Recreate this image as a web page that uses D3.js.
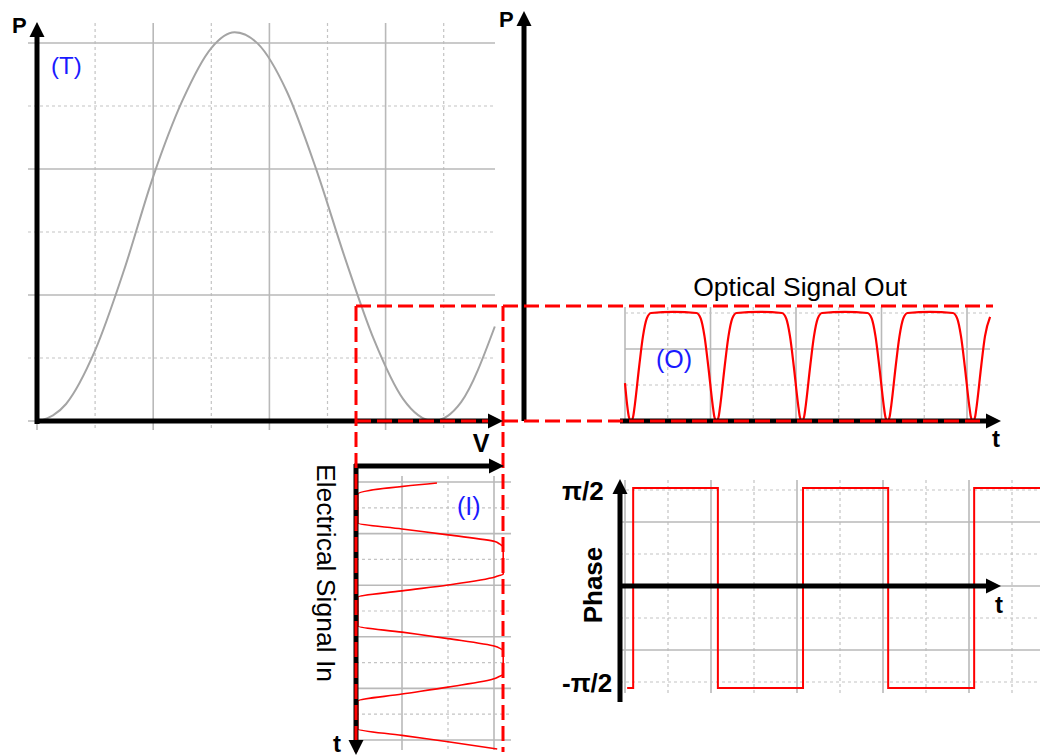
<!DOCTYPE html>
<html>
<head>
<meta charset="utf-8">
<script src="https://cdn.jsdelivr.net/npm/d3@7"></script>
<style>
  body { margin: 0; background: #fff; }
  svg { display: block; font-family: "Liberation Sans", Arial, sans-serif; }
</style>
</head>
<body>
<svg width="1040" height="756"></svg>
<script>
// transfer curve (T): bias voltage V vs optical power P, in grid units
var tV = [0.05, 0.5, 1.0, 1.5, 2.0, 2.5, 3.0, 3.4, 3.8, 4.3, 4.8, 5.3, 5.8, 6.3, 6.82, 7.3, 7.88];
var tP = [0, 0.27, 1.12, 2.40, 3.88, 5.08, 5.92, 6.17, 5.99, 5.23, 4.01, 2.59, 1.29, 0.35, 0, 0.30, 1.5];

// electrical input (I): drive V along time t (t grows downwards)
var iV = [1.76, 0.04, 0.04, 1.0, 2.0, 3.02, 3.12, 3.2, 3.2, 3.1, 3.02, 2.0, 1.0, 0.04, 0.04, 1.0, 2.0, 3.02, 3.12, 3.2, 3.2, 3.1, 3.02, 2.0, 1.0, 0.04, 0.04, 1.0, 2.0, 3.07];
var iT = [0.04, 0.47, 1.59, 1.82, 2.05, 2.31, 2.40, 2.55, 3.58, 3.63, 3.68, 3.99, 4.22, 4.46, 5.58, 5.82, 6.07, 6.37, 6.44, 6.55, 7.45, 7.55, 7.62, 7.95, 8.22, 8.49, 9.57, 9.82, 10.07, 10.35];

// optical output (O): power vs time
var oT = [0, 0.05, 0.09, 0.14, 0.19, 0.23, 0.33, 0.42, 0.51, 0.61, 1.14,
          1.67, 1.77, 1.86, 1.95, 2.05, 2.09, 2.14, 2.19, 2.23, 2.33, 2.42, 2.51, 2.61, 3.14,
          3.67, 3.77, 3.86, 3.95, 4.05, 4.09, 4.14, 4.19, 4.23, 4.33, 4.42, 4.51, 4.61, 5.14,
          5.67, 5.77, 5.86, 5.95, 6.05, 6.09, 6.14, 6.19, 6.23, 6.33, 6.42, 6.51, 6.61, 7.14,
          7.67, 7.77, 7.86, 7.95, 8.05, 8.09, 8.14, 8.19, 8.23, 8.33, 8.42, 8.54];
var oP = [1.05, 0.45, 0.12, 0, 0.12, 0.45, 1.5, 2.35, 2.85, 3.0, 3.03,
          3.0, 2.85, 2.35, 1.5, 0.45, 0.12, 0, 0.12, 0.45, 1.5, 2.35, 2.85, 3.0, 3.03,
          3.0, 2.85, 2.35, 1.5, 0.45, 0.12, 0, 0.12, 0.45, 1.5, 2.35, 2.85, 3.0, 3.03,
          3.0, 2.85, 2.35, 1.5, 0.45, 0.12, 0, 0.12, 0.45, 1.5, 2.35, 2.85, 3.0, 3.03,
          3.0, 2.85, 2.35, 1.5, 0.45, 0.12, 0, 0.12, 0.45, 1.5, 2.35, 2.89];

// phase vs time (step after each switch)
var phT = [0.05, 0.19, 2.16, 4.14, 6.12, 8.12, 9.75];
var phV = [-Math.PI / 2, Math.PI / 2, -Math.PI / 2, Math.PI / 2, -Math.PI / 2, Math.PI / 2, Math.PI / 2];
var phTicks = [Math.PI / 2, -Math.PI / 2];
var phTickLabels = ["π/2", "-π/2"];

var svg = d3.select("svg");
svg.append("rect").attr("width", 1040).attr("height", 756).attr("fill", "#fff");

var gridG = svg.append("g"),
  curveG = svg.append("g"),
  axisG = svg.append("g"),
  boxG = svg.append("g"),
  headG = svg.append("g"),
  textG = svg.append("g");

function gridLine(x1, y1, x2, y2, solid) {
  gridG.append("line")
    .attr("x1", x1).attr("y1", y1).attr("x2", x2).attr("y2", y2)
    .attr("stroke", solid ? "#b9b9b9" : "#c4c4c4")
    .attr("stroke-width", solid ? 1.6 : 1.2)
    .attr("stroke-dasharray", solid ? null : "3,3");
}

// thick black axis with a triangle head at (x2, y2)
function arrow(x1, y1, x2, y2, w) {
  var dx = x2 - x1, dy = y2 - y1, len = Math.sqrt(dx * dx + dy * dy),
    ux = dx / len, uy = dy / len, hl = 15, hw = 7.5;
  axisG.append("line")
    .attr("x1", x1).attr("y1", y1)
    .attr("x2", x2 - ux * hl).attr("y2", y2 - uy * hl)
    .attr("stroke", "#000").attr("stroke-width", w);
  var bx = x2 - ux * hl, by = y2 - uy * hl;
  headG.append("polygon")
    .attr("points", [[x2, y2], [bx - uy * hw, by + ux * hw], [bx + uy * hw, by - ux * hw]].join(" "))
    .attr("fill", "#000");
}

// ---- (T) transfer function ----
var tx = d3.scaleLinear().domain([0, 8]).range([37, 501.8]);
var ty = d3.scaleLinear().domain([0, 6]).range([421, 43]);

d3.range(0, 8).forEach(function(k) { gridLine(tx(k), 23, tx(k), 430, k % 2 == 0); });
d3.range(0, 7).forEach(function(k) { gridLine(28, ty(k), 495, ty(k), k % 2 == 0); });

curveG.append("path")
  .datum(d3.zip(tV, tP))
  .attr("fill", "none").attr("stroke", "#a4a4a4").attr("stroke-width", 2)
  .attr("d", d3.line()
    .x(function(d) { return tx(d[0]); })
    .y(function(d) { return ty(d[1]); })
    .curve(d3.curveMonotoneX));

arrow(37, 424, 37, 22, 5);
arrow(35, 421, 503, 421, 5);

// ---- (O) optical output ----
var ox = d3.scaleLinear().domain([0, 8]).range([625, 967]);
var oy = d3.scaleLinear().domain([0, 3]).range([421, 313]);

d3.range(0, 9).forEach(function(k) { gridLine(ox(k), 307, ox(k), 421, k % 2 == 0); });
[1, 2, 3].forEach(function(k) { gridLine(625, oy(k), 990, oy(k), k % 2 == 0); });

curveG.append("path")
  .datum(d3.zip(oT, oP))
  .attr("fill", "none").attr("stroke", "#ff0000").attr("stroke-width", 2.2)
  .attr("d", d3.line()
    .x(function(d) { return ox(d[0]); })
    .y(function(d) { return oy(d[1]); })
    .curve(d3.curveMonotoneX));

arrow(524, 421, 524, 11, 5);
arrow(620, 421, 1001, 421, 5);

// ---- (I) electrical input ----
var ix = d3.scaleLinear().domain([0, 1]).range([356, 402]);
var iy = d3.scaleLinear().domain([0, 10]).range([482, 740]);

[1, 2, 3].forEach(function(k) { gridLine(ix(k), 476, ix(k), 750, k % 2 == 1); });
d3.range(0, 11).forEach(function(k) { gridLine(356, iy(k), 511, iy(k), k % 2 == 0); });

curveG.append("path")
  .datum(d3.zip(iV, iT))
  .attr("fill", "none").attr("stroke", "#ff0000").attr("stroke-width", 1.6)
  .attr("d", d3.line()
    .x(function(d) { return ix(d[0]); })
    .y(function(d) { return iy(d[1]); })
    .curve(d3.curveMonotoneY));

arrow(356, 464, 356, 755, 5);
arrow(354, 466, 504, 466, 5);

// ---- Phase ----
var px = d3.scaleLinear().domain([0, 8]).range([625, 969]);
var py = d3.scaleLinear().domain([-Math.PI / 2, Math.PI / 2]).range([688, 488]);
var gy = d3.scaleLinear().domain([-3, 3]).range([682, 490]);

d3.range(0, 10).forEach(function(k) { gridLine(px(k), 480, px(k), 693, k % 2 == 0); });
[-3, -2, -1, 1, 2, 3].forEach(function(k) { gridLine(620, gy(k), 1040, gy(k), k % 2 == 0); });
gridLine(990, gy(0), 1040, gy(0), true);

curveG.append("path")
  .datum(d3.zip(phT, phV))
  .attr("fill", "none").attr("stroke", "#ff0000").attr("stroke-width", 2)
  .attr("d", d3.line()
    .x(function(d) { return px(d[0]); })
    .y(function(d) { return py(d[1]); })
    .curve(d3.curveStepAfter));

arrow(620, 702, 620, 479, 5);
arrow(618, gy(0), 1001, gy(0), 5);

// ---- red dashed window linking the panels ----
[[356, 306, 993, 306], [356, 421, 986, 421], [356, 306, 356, 752], [503, 306, 503, 752]].forEach(function(l) {
  boxG.append("line")
    .attr("x1", l[0]).attr("y1", l[1]).attr("x2", l[2]).attr("y2", l[3])
    .attr("stroke", "#ff0000").attr("stroke-width", 3)
    .attr("stroke-dasharray", "15,6");
});

// ---- labels ----
function label(x, y, s, size, opts) {
  opts = opts || {};
  var t = textG.append("text")
    .attr("x", x).attr("y", y)
    .attr("font-size", size)
    .attr("font-weight", opts.bold ? "bold" : "normal")
    .attr("fill", opts.fill || "#000")
    .attr("text-anchor", opts.anchor || "start")
    .text(s);
  if (opts.rotate) t.attr("transform", "rotate(" + opts.rotate + "," + x + "," + y + ")");
  return t;
}

label(12, 33, "P", 22, {bold: true});
label(499, 27, "P", 22, {bold: true});
label(481, 452, "V", 25, {bold: true, anchor: "middle"});
label(996, 447, "t", 24, {bold: true, anchor: "middle"});
label(337, 752, "t", 24, {bold: true, anchor: "middle"});
label(999, 613, "t", 24, {bold: true, anchor: "middle"});

label(51, 74, "(T)", 24, {fill: "#1a1aff"});
label(656, 368, "(O)", 25, {fill: "#1a1aff"});
label(457, 515, "(I)", 25, {fill: "#1a1aff"});

label(800, 296, "Optical Signal Out", 26.5, {anchor: "middle"});
label(317, 573, "Electrical Signal In", 26.5, {anchor: "middle", rotate: 90});
label(602, 585, "Phase", 26, {bold: true, anchor: "middle", rotate: -90});

phTicks.forEach(function(v, i) {
  label(562, gy(v > 0 ? 3 : -3) + 10, phTickLabels[i], 26, {bold: true});
});
</script>
</body>
</html>
